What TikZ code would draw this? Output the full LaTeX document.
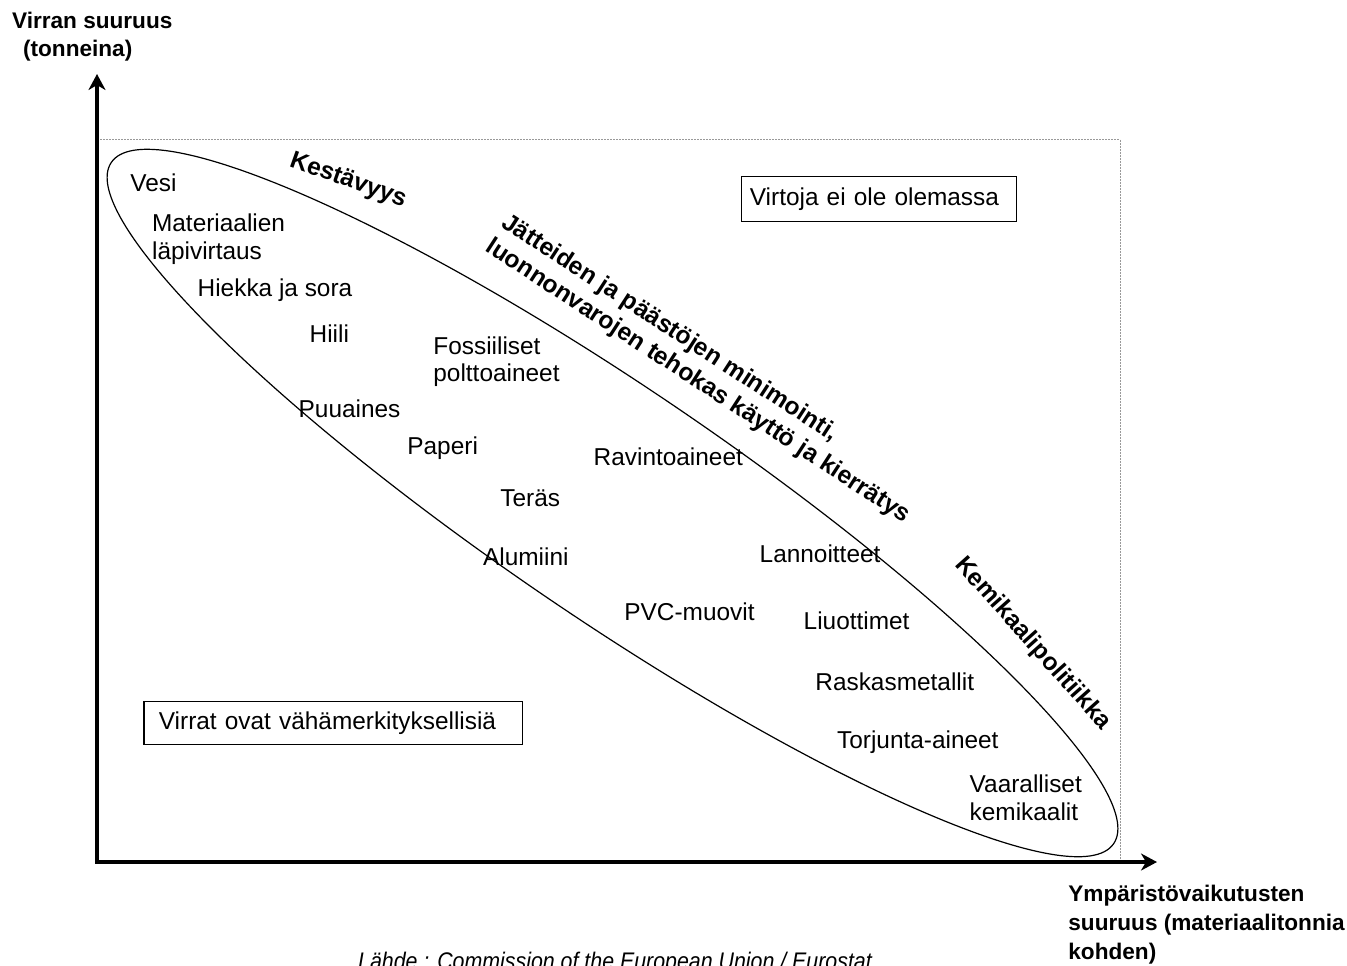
\documentclass[tikz,border=0pt]{standalone}
\usepackage{fontspec}
\setmainfont{Liberation Sans}
\usetikzlibrary{positioning,shapes.geometric,arrows.meta}

\begin{document}
\begin{tikzpicture}[x=0.5pt,y=-0.5pt,
    item/.style={anchor=base west,inner sep=0pt,align=left,font=\fontsize{12.2}{13.8}\selectfont},
    region/.style={draw,line width=0.6pt,inner ysep=0pt,anchor=north west,minimum height=22.5pt,align=left,font=\fontsize{12.2}{13.8}\selectfont},
    policy/.style={inner sep=0pt,align=left,font=\fontsize{12.3}{14.5}\selectfont\bfseries},
    axislabel/.style={anchor=base west,inner sep=0pt,align=left,font=\fontsize{11.3}{14.3}\selectfont\bfseries},
    axis/.style={line width=2.2pt,{Stealth[length=8pt,width=8.5pt,inset=2.5pt]}-{Stealth[length=8pt,width=8.5pt,inset=2.5pt]}},
    frame/.style={draw=gray!80,line width=0.5pt,dash pattern=on 1pt off 0.5pt}] %
    \useasboundingbox (0,0) rectangle (1347,965);
    % axes and the dotted frame
    \coordinate (origo) at (97,862);
    \coordinate (ykarki) at (97,74);
    \coordinate (xkarki) at (1157,862);
    \coordinate (kulma) at (1120,139.5);
    \draw[frame] (origo |- kulma) -- (kulma) -- (kulma |- origo);
    \draw[axis] (ykarki) -- (origo) -- (xkarki);
    % multi-line nodes sit on the baseline of their last line
    \node[axislabel] (ylabel) at (11.7,56.7) {Virran suuruus\\\hspace*{5.5pt}(tonneina)};
    \node[axislabel] (xlabel) at (1068,959) {Ympäristövaikutusten\\suuruus (materiaalitonnia\\kohden)};
    % the ellipse of material flows
    \node[draw,ellipse,line width=0.6pt,rotate=-34.2,minimum width=606pt,minimum height=115pt,inner sep=0pt] (kentta) at (612.5,503) {};
    \node[item] (vesi) at (130,191) {Vesi};
    \node[item] (lapivirtaus) at (151.7,259.3) {Materiaalien\\läpivirtaus};
    \node[item] (hiekka) at (197.3,296) {Hiekka ja sora};
    \node[item] (hiili) at (309.3,342.7) {Hiili};
    \node[item] (fossiiliset) at (433,381.7) {Fossiiliset\\polttoaineet};
    \node[item] (puuaines) at (298.3,417.3) {Puuaines};
    \node[item] (paperi) at (407,454) {Paperi};
    \node[item] (ravinto) at (593.3,465) {Ravintoaineet};
    \node[item] (teras) at (500,506) {Teräs};
    \node[item] (alumiini) at (482.7,565) {Alumiini};
    \node[item] (lannoitteet) at (759.3,562.3) {Lannoitteet};
    \node[item] (pvc) at (624,620.7) {PVC-muovit};
    \node[item] (liuottimet) at (803.3,629.3) {Liuottimet};
    \node[item] (raskas) at (815,690) {Raskasmetallit};
    \node[item] (torjunta) at (836.7,748) {Torjunta-aineet};
    \node[item] (vaaralliset) at (969.3,820) {Vaaralliset\\kemikaalit};
    % policies along the ellipse
    \node[policy,rotate=-19.5,anchor=base] (kestavyys) at (346,186.5) {Kestävyys};
    \node[policy,rotate=-33,anchor=north west] (minimointi) at (510,211) {Jätteiden ja päästöjen minimointi,\\luonnonvarojen tehokas käyttö ja kierrätys};
    \node[policy,rotate=-48.3] (kemikaali) at (1032.5,643.5) {Kemikaalipolitiikka};
    % boxes outside the ellipse
    \node[region,inner xsep=4.3pt,text width=129.1pt] (eiole) at (740.7,175.7) {Virtoja ei ole olemassa};
    \node[region,inner xsep=7.5pt,text width=174.2pt,minimum height=21.65pt] (vahamerk) at (143.3,700.7) {Virrat ovat vähämerkityksellisiä};
    \node[font=\fontsize{12}{14}\selectfont\itshape,xscale=0.89,anchor=base,inner sep=0pt] (lahde) at (615,969) {Lähde : Commission of the European Union / Eurostat};
\end{tikzpicture}
\end{document}
